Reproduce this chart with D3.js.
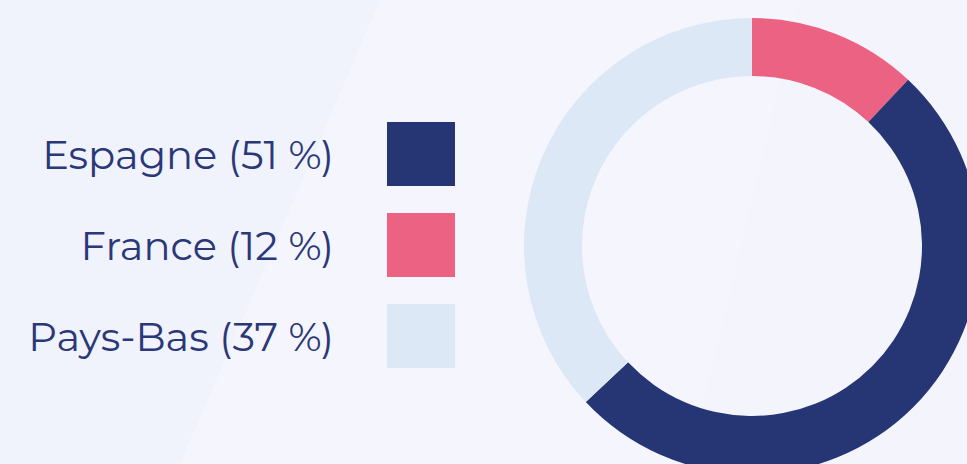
<!DOCTYPE html>
<html>
<head>
<meta charset="utf-8">
<script src="https://cdn.jsdelivr.net/npm/d3@7"></script>
<style>
  html, body { margin: 0; padding: 0; background: #f3f4fd; }
  svg { display: block; }
</style>
</head>
<body>
<svg id="chart" width="967" height="464"></svg>
<script>
// data
const countries = ['Espagne', 'France', 'Pays-Bas']
const shares = [51, 12, 37]
const colors = ['#263574', '#ec6282', '#dce8f6']
// slices go clockwise from the top in this order
const sliceOrder = ['France', 'Espagne', 'Pays-Bas']

const width = 967
const height = 464
const svg = d3.select('#chart')

// soft diagonal shading of the background
svg.append('rect')
    .attr('width', width).attr('height', height)
    .attr('fill', '#f4f5fd')
svg.append('path')
    .attr('d', 'M0,0 L380,0 L180,464 L0,464 Z')
    .attr('fill', '#f0f2fc')
svg.append('path')
    .attr('d', 'M800,0 L967,0 L967,464 L690,464 Z')
    .attr('fill', '#f2f4fc')
    .attr('opacity', 0.6)

let color = d3.scaleOrdinal().domain(countries).range(colors)

// legend
let legendY = d3.scalePoint()
    .domain(countries)
    .range([154, 336])

let legend = svg.append('g')
legend.selectAll('text')
  .data(countries)
  .join('text')
    .attr('x', 334)
    .attr('y', d => legendY(d) + 15)
    .attr('text-anchor', 'end')
    .attr('font-family', 'Montserrat, "Open Sans", sans-serif')
    .attr('font-weight', 400)
    .attr('font-size', 40)
    .attr('fill', '#2a3878')
    .text((d, i) => `${d} (${shares[i]} %)`)

legend.selectAll('rect')
  .data(countries)
  .join('rect')
    .attr('x', 387)
    .attr('y', d => legendY(d) - 32)
    .attr('width', 68)
    .attr('height', 64)
    .attr('fill', d => color(d))

// donut
let pie = d3.pie()
    .sort(null)
    .value(d => d.value)

let arc = d3.arc()
    .innerRadius(170)
    .outerRadius(228)

let pieData = sliceOrder.map(name => ({
  name: name,
  value: shares[countries.indexOf(name)]
}))

svg.append('g')
    .attr('transform', 'translate(752,246)')
  .selectAll('path')
  .data(pie(pieData))
  .join('path')
    .attr('d', arc)
    .attr('fill', d => color(d.data.name))
</script>
</body>
</html>
